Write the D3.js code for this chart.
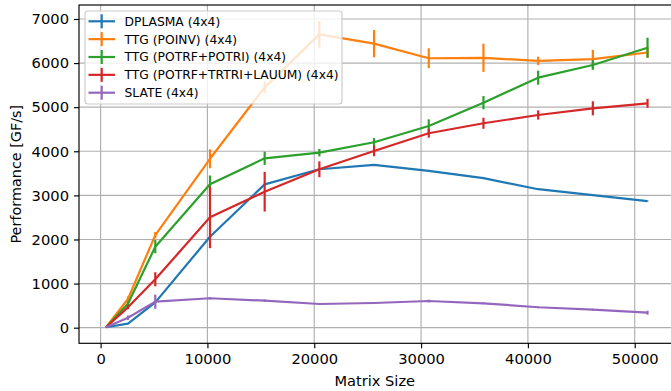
<!DOCTYPE html>
<html>
<head>
<meta charset="utf-8">
<script src="https://cdn.jsdelivr.net/npm/d3@7"></script>
<style>
  html, body { margin: 0; padding: 0; background: #fff; }
  svg { display: block; font-family: 'DejaVu Sans', sans-serif; }
</style>
</head>
<body>
<div class="chart"></div>
<script>
const sizes = [512, 2560, 5120, 10240, 15360, 20480, 25600, 30720, 35840, 40960, 46080, 51200]

const dplasma = [10, 91, 575, 2063, 3250, 3592, 3690, 3555, 3390, 3140, 3005, 2870]
const dplasmaErr = [2, 8, 15, 15, 15, 12, 10, 10, 10, 10, 10, 10]

const poinv = [10, 650, 2100, 3830, 5450, 6650, 6440, 6110, 6120, 6050, 6090, 6240]
const poinvErr = [3, 60, 70, 215, 130, 300, 310, 225, 320, 95, 210, 120]

const potri = [10, 545, 1837, 3252, 3841, 3969, 4204, 4574, 5102, 5669, 5957, 6349]
const potriErr = [3, 50, 150, 200, 150, 85, 95, 150, 150, 160, 110, 227]

const trtri = [10, 462, 1098, 2503, 3084, 3592, 4007, 4408, 4635, 4823, 4975, 5088]
const trtriErr = [3, 40, 160, 700, 450, 180, 120, 100, 125, 105, 160, 100]

const slate = [10, 227, 590, 667, 612, 537, 560, 605, 553, 463, 408, 340]
const slateErr = [3, 50, 160, 25, 30, 20, 20, 30, 20, 20, 20, 45]

const seriesNames = ['DPLASMA (4x4)', 'TTG (POINV) (4x4)', 'TTG (POTRF+POTRI) (4x4)', 'TTG (POTRF+TRTRI+LAUUM) (4x4)', 'SLATE (4x4)']
const colors = ['#1f77b4', '#ff7f0e', '#2ca02c', '#d62728', '#9467bd']
const xTicks = [0, 10000, 20000, 30000, 40000, 50000]
const yTicks = [0, 1000, 2000, 3000, 4000, 5000, 6000, 7000]

const series = [
  { name: seriesNames[0], values: dplasma, errs: dplasmaErr, color: colors[0] },
  { name: seriesNames[1], values: poinv, errs: poinvErr, color: colors[1] },
  { name: seriesNames[2], values: potri, errs: potriErr, color: colors[2] },
  { name: seriesNames[3], values: trtri, errs: trtriErr, color: colors[3] },
  { name: seriesNames[4], values: slate, errs: slateErr, color: colors[4] }
]

const width = 671
const height = 391
const plotLeft = 79
const plotTop = 5
const plotRight = 674.6
const plotBottom = 343.3

const svg = d3.select('.chart')
  .append('svg')
  .attr('width', width)
  .attr('height', height)

const x = d3.scaleLinear().domain([-2022, 53734]).range([plotLeft, plotRight])
const y = d3.scaleLinear().domain([-354, 7317]).range([plotBottom, plotTop])

// grid
svg.append('g')
  .selectAll('line')
  .data(xTicks)
  .enter()
  .append('line')
  .attr('x1', (d) => x(d)).attr('x2', (d) => x(d))
  .attr('y1', plotTop).attr('y2', plotBottom)
  .attr('stroke', '#b0b0b0')
  .attr('stroke-width', 1.16)

svg.append('g')
  .selectAll('line')
  .data(yTicks)
  .enter()
  .append('line')
  .attr('x1', plotLeft).attr('x2', plotRight)
  .attr('y1', (d) => y(d)).attr('y2', (d) => y(d))
  .attr('stroke', '#b0b0b0')
  .attr('stroke-width', 1.16)

// axes
const xAxis = svg.append('g')
  .attr('transform', `translate(0,${plotBottom})`)
  .call(d3.axisBottom(x).tickValues(xTicks).tickFormat(d3.format('d')).tickSize(5).tickPadding(5))
const yAxis = svg.append('g')
  .attr('transform', `translate(${plotLeft},0)`)
  .call(d3.axisLeft(y).tickValues(yTicks).tickFormat(d3.format('d')).tickSize(5).tickPadding(5))

for (const ax of [xAxis, yAxis]) {
  ax.select('.domain').remove()
  ax.selectAll('line').attr('stroke', '#000').attr('stroke-width', 1.16)
  ax.selectAll('text')
    .attr('fill', '#000')
    .style('font-family', 'DejaVu Sans, sans-serif')
    .style('font-size', '14.7px')
}

svg.append('rect')
  .attr('x', plotLeft).attr('y', plotTop)
  .attr('width', plotRight - plotLeft).attr('height', plotBottom - plotTop)
  .attr('fill', 'none')
  .attr('stroke', '#000')
  .attr('stroke-width', 1.16)

// series
const line = d3.line()
  .x((d) => x(d.size))
  .y((d) => y(d.value))

series.forEach((s) => {
  const pts = sizes.map((size, i) => ({ size, value: s.values[i], err: s.errs[i] }))
  const g = svg.append('g')
  g.selectAll('line')
    .data(pts)
    .enter()
    .append('line')
    .attr('x1', (d) => x(d.size)).attr('x2', (d) => x(d.size))
    .attr('y1', (d) => y(d.value - d.err)).attr('y2', (d) => y(d.value + d.err))
    .attr('stroke', s.color)
    .attr('stroke-width', 2.2)
  g.append('path')
    .datum(pts)
    .attr('d', line)
    .attr('fill', 'none')
    .attr('stroke', s.color)
    .attr('stroke-width', 2.2)
    .attr('stroke-linejoin', 'round')
})

// legend
const legend = svg.append('g')
legend.append('rect')
  .attr('x', 85).attr('y', 11)
  .attr('width', 257).attr('height', 93)
  .attr('rx', 3)
  .attr('fill', 'rgba(255,255,255,0.8)')
  .attr('stroke', '#cccccc')
  .attr('stroke-width', 1.16)

series.forEach((s, i) => {
  const cy = 21.3 + i * 17.85
  legend.append('line')
    .attr('x1', 88.5).attr('x2', 115)
    .attr('y1', cy).attr('y2', cy)
    .attr('stroke', s.color).attr('stroke-width', 2.2)
  legend.append('line')
    .attr('x1', 101.7).attr('x2', 101.7)
    .attr('y1', cy - 7).attr('y2', cy + 7)
    .attr('stroke', s.color).attr('stroke-width', 2.2)
  legend.append('text')
    .attr('x', 124.5).attr('y', cy)
    .attr('dy', '0.36em')
    .style('font-size', '12.3px')
    .attr('fill', '#000')
    .text(s.name)
})

// axis labels
svg.append('text')
  .attr('x', (plotLeft + plotRight) / 2 - 2)
  .attr('y', 386)
  .attr('text-anchor', 'middle')
  .style('font-size', '14.6px')
  .text('Matrix Size')

svg.append('text')
  .attr('transform', `translate(20.5,${(plotTop + plotBottom) / 2}) rotate(-90)`)
  .attr('text-anchor', 'middle')
  .style('font-size', '14.4px')
  .text('Performance [GF/s]')
</script>
</body>
</html>
